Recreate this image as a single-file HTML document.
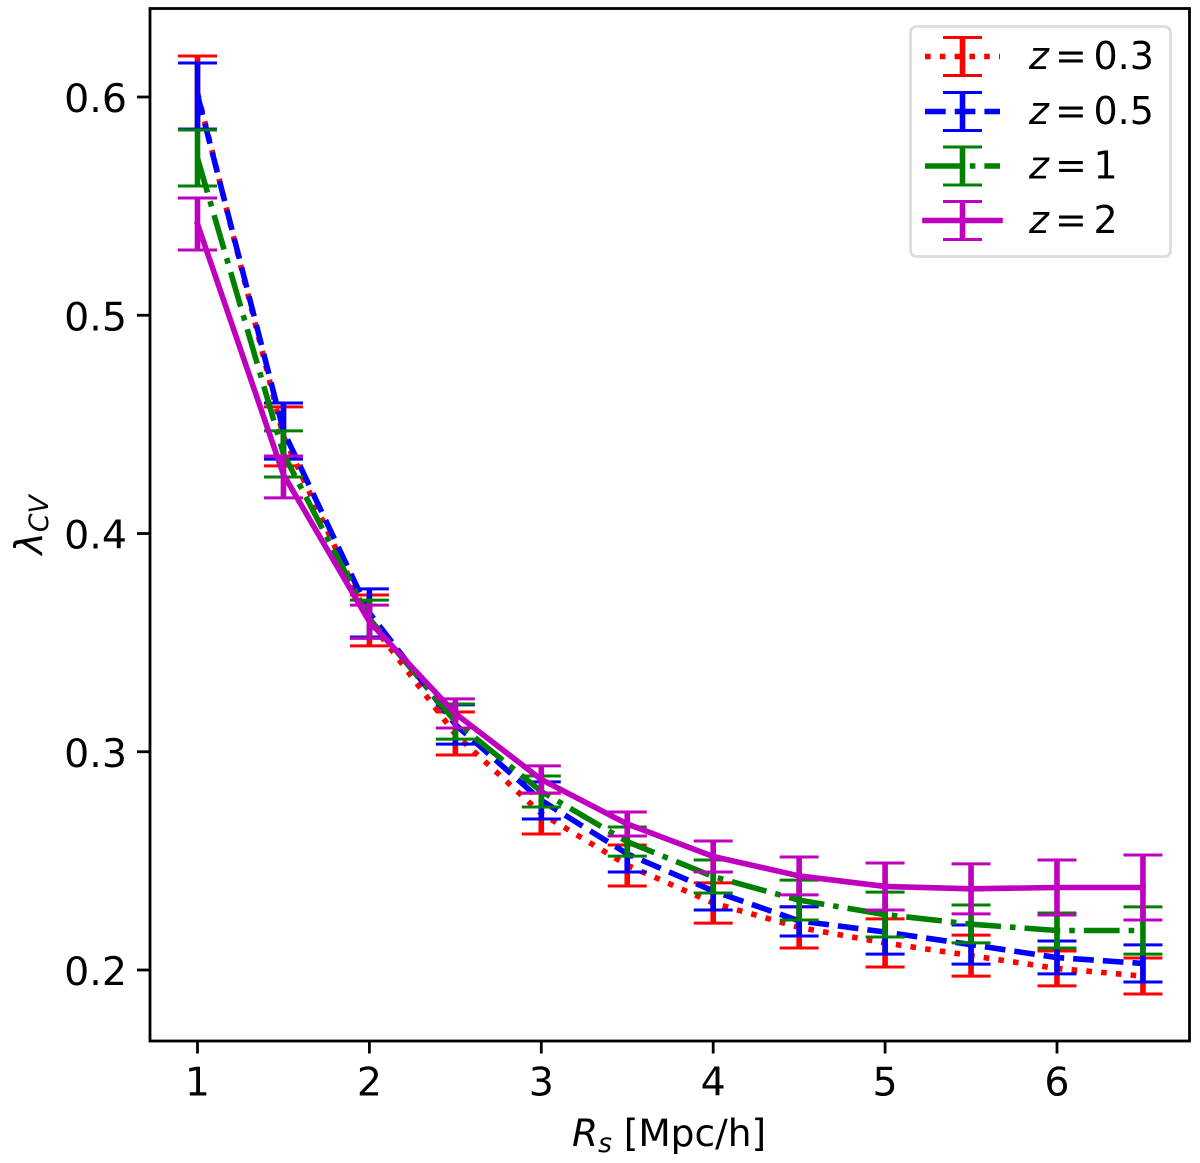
<!DOCTYPE html>
<html lang="en">
<head>
<meta charset="utf-8">
<title>Lambda CV versus smoothing scale</title>
<style>
html,body{margin:0;padding:0;background:#fff;width:1200px;height:1163px;overflow:hidden}
svg{display:block;font-family:"DejaVu Sans","Liberation Sans",sans-serif;fill:#000}
text{font-size:38px}
</style>
</head>
<body>
<svg id="chart" xmlns="http://www.w3.org/2000/svg" width="1200" height="1163" viewBox="0 0 1200 1163">
  <rect x="0" y="0" width="1200" height="1163" fill="#fff"/>
  <g id="series-layer"></g>
  <rect x="150" y="8.5" width="1039.5" height="1032.5" fill="none" stroke="#000" stroke-width="2.8"/>
  <g id="ticks-layer"></g>
  <text x="572" y="1146" style="font-size:37.5px"><tspan font-style="italic">R</tspan><tspan font-style="italic" font-size="26.6" dy="6">s</tspan><tspan x="623.7" dy="-6">[Mpc/h]</tspan></text>
  <text transform="translate(42,525) rotate(-90)" text-anchor="middle"><tspan font-style="italic">λ</tspan><tspan font-style="italic" font-size="26.6" dy="6">CV</tspan></text>

  <g>
    <rect x="910.5" y="26.5" width="260" height="230" rx="6" ry="6" fill="#fff" fill-opacity="0.8" stroke="#dcdcdc" stroke-width="2.8"/>
    <g>
      <line x1="925" y1="56.5" x2="1000" y2="56.5" stroke="#ff0000" stroke-width="5.6" stroke-dasharray="5.6 9.2"/>
      <line x1="962.5" y1="37.5" x2="962.5" y2="75.5" stroke="#ff0000" stroke-width="5.6"/>
      <line x1="943" y1="37.5" x2="982" y2="37.5" stroke="#ff0000" stroke-width="3"/>
      <line x1="943" y1="75.5" x2="982" y2="75.5" stroke="#ff0000" stroke-width="3"/>
      <text x="1029" y="69"><tspan font-style="italic">z</tspan><tspan x="1055">=</tspan><tspan x="1093.5">0.3</tspan></text>
    </g>
    <g>
      <line x1="925" y1="111.5" x2="1000" y2="111.5" stroke="#0000ff" stroke-width="5.6" stroke-dasharray="20.7 9"/>
      <line x1="962.5" y1="92.5" x2="962.5" y2="130.5" stroke="#0000ff" stroke-width="5.6"/>
      <line x1="943" y1="92.5" x2="982" y2="92.5" stroke="#0000ff" stroke-width="3"/>
      <line x1="943" y1="130.5" x2="982" y2="130.5" stroke="#0000ff" stroke-width="3"/>
      <text x="1029" y="124"><tspan font-style="italic">z</tspan><tspan x="1055">=</tspan><tspan x="1093.5">0.5</tspan></text>
    </g>
    <g>
      <line x1="925" y1="166" x2="1000" y2="166" stroke="#008000" stroke-width="5.6" stroke-dasharray="35.8 9 5.6 9"/>
      <line x1="962.5" y1="147" x2="962.5" y2="185" stroke="#008000" stroke-width="5.6"/>
      <line x1="943" y1="147" x2="982" y2="147" stroke="#008000" stroke-width="3"/>
      <line x1="943" y1="185" x2="982" y2="185" stroke="#008000" stroke-width="3"/>
      <text x="1029" y="178.5"><tspan font-style="italic">z</tspan><tspan x="1055">=</tspan><tspan x="1093.5">1</tspan></text>
    </g>
    <g>
      <line x1="925" y1="220.5" x2="1000" y2="220.5" stroke="#bf00bf" stroke-width="5.6" stroke-linecap="square"/>
      <line x1="962.5" y1="201.5" x2="962.5" y2="239.5" stroke="#bf00bf" stroke-width="5.6"/>
      <line x1="943" y1="201.5" x2="982" y2="201.5" stroke="#bf00bf" stroke-width="3"/>
      <line x1="943" y1="239.5" x2="982" y2="239.5" stroke="#bf00bf" stroke-width="3"/>
      <text x="1029" y="233"><tspan font-style="italic">z</tspan><tspan x="1055">=</tspan><tspan x="1093.5">2</tspan></text>
    </g>
  </g>
</svg>
<script>
var scales = [1, 1.5, 2, 2.5, 3, 3.5, 4, 4.5, 5, 5.5, 6, 6.5];
var xTickValues = [1, 2, 3, 4, 5, 6];
var yTickValues = [0.2, 0.3, 0.4, 0.5, 0.6];

var redUpper = [0.6188, 0.458, 0.3718, 0.3182, 0.281, 0.2573, 0.2399, 0.2289, 0.2234, 0.216, 0.2087, 0.2055];
var redMean = [0.602, 0.4445, 0.360, 0.308, 0.2717, 0.248, 0.2307, 0.2195, 0.2124, 0.2066, 0.2007, 0.1972];
var redLower = [0.5853, 0.431, 0.3485, 0.2985, 0.2623, 0.2385, 0.2215, 0.2101, 0.2014, 0.1972, 0.1927, 0.189];

var blueUpper = [0.6156, 0.4598, 0.3746, 0.3215, 0.2862, 0.2614, 0.2449, 0.229, 0.2275, 0.2206, 0.2133, 0.2115];
var blueMean = [0.601, 0.447, 0.3636, 0.3125, 0.2777, 0.2532, 0.2362, 0.2225, 0.2174, 0.2116, 0.2057, 0.203];
var blueLower = [0.5853, 0.4341, 0.3526, 0.3035, 0.2692, 0.2449, 0.2275, 0.2156, 0.2073, 0.2027, 0.1982, 0.1945];

var greenUpper = [0.5849, 0.447, 0.3695, 0.3219, 0.2889, 0.2655, 0.2504, 0.2412, 0.2357, 0.2298, 0.2261, 0.2289];
var greenMean = [0.572, 0.4365, 0.361, 0.3138, 0.2818, 0.2588, 0.2428, 0.232, 0.2254, 0.221, 0.2181, 0.2181];
var greenLower = [0.5592, 0.4259, 0.352, 0.3058, 0.2747, 0.2522, 0.2353, 0.2229, 0.2151, 0.2124, 0.2101, 0.2073];

var magentaUpper = [0.5537, 0.4355, 0.3672, 0.3242, 0.2935, 0.2724, 0.2591, 0.2518, 0.249, 0.2486, 0.2504, 0.2527];
var magentaMean = [0.5418, 0.427, 0.3596, 0.3175, 0.2873, 0.2669, 0.252, 0.2431, 0.2383, 0.2372, 0.2378, 0.2378];
var magentaLower = [0.5299, 0.4163, 0.352, 0.3109, 0.2811, 0.2614, 0.2449, 0.2344, 0.2275, 0.2257, 0.2252, 0.2229];

var SVG_NS = 'http://www.w3.org/2000/svg';

function xScale(v) { return 197.5 + (v - 1) * 171.9; }
function yScale(v) { return 970 - (v - 0.2) * 2182.5; }

function makeLine(x1, y1, x2, y2, color, width) {
  var el = document.createElementNS(SVG_NS, 'line');
  el.setAttribute('x1', x1);
  el.setAttribute('y1', y1);
  el.setAttribute('x2', x2);
  el.setAttribute('y2', y2);
  el.setAttribute('stroke', color);
  el.setAttribute('stroke-width', width);
  return el;
}

function drawSeries(name, color, dash, mean, upper, lower) {
  var layer = document.getElementById('series-layer');
  var group = document.createElementNS(SVG_NS, 'g');
  
  

  var pts = [];
  for (var i = 0; i < scales.length; i++) {
    pts.push(xScale(scales[i]).toFixed(2) + ',' + yScale(mean[i]).toFixed(2));
  }
  var path = document.createElementNS(SVG_NS, 'polyline');
  
  
  path.setAttribute('points', pts.join(' '));
  path.setAttribute('fill', 'none');
  path.setAttribute('stroke', color);
  path.setAttribute('stroke-width', '5.6');
  path.setAttribute('stroke-linejoin', 'round');
  if (dash) {
    path.setAttribute('stroke-dasharray', dash);
  } else {
    path.setAttribute('stroke-linecap', 'square');
  }
  group.appendChild(path);

  for (var j = 0; j < scales.length; j++) {
    var cx = xScale(scales[j]);
    var top = yScale(upper[j]);
    var bottom = yScale(lower[j]);
    var bar = makeLine(cx, top, cx, bottom, color, 5.6);
    
    
    group.appendChild(bar);
    var capTop = makeLine(cx - 19.5, top, cx + 19.5, top, color, 3);
    
    
    group.appendChild(capTop);
    var capBottom = makeLine(cx - 19.5, bottom, cx + 19.5, bottom, color, 3);
    
    
    group.appendChild(capBottom);
  }
  layer.appendChild(group);
}

function drawAxes() {
  var layer = document.getElementById('ticks-layer');
  xTickValues.forEach(function (v) {
    var px = xScale(v);
    var tick = makeLine(px, 1041, px, 1053.5, '#000', 2.8);
    
    
    layer.appendChild(tick);
    var label = document.createElementNS(SVG_NS, 'text');
    
    
    label.setAttribute('x', px);
    label.setAttribute('y', 1095.5);
    label.setAttribute('text-anchor', 'middle');
    label.setAttribute('style', 'font-size:39.5px');
    label.textContent = String(v);
    layer.appendChild(label);
  });
  yTickValues.forEach(function (v) {
    var py = yScale(v);
    var tick = makeLine(137, py, 150, py, '#000', 2.8);
    
    
    layer.appendChild(tick);
    var label = document.createElementNS(SVG_NS, 'text');
    
    
    label.setAttribute('x', 127);
    label.setAttribute('y', py + 15);
    label.setAttribute('text-anchor', 'end');
    label.setAttribute('style', 'font-size:39.5px');
    label.textContent = v.toFixed(1);
    layer.appendChild(label);
  });
}

drawSeries('z-0.3', '#ff0000', '5.6 9.2', redMean, redUpper, redLower);
drawSeries('z-0.5', '#0000ff', '20.7 9', blueMean, blueUpper, blueLower);
drawSeries('z-1', '#008000', '35.8 9 5.6 9', greenMean, greenUpper, greenLower);
drawSeries('z-2', '#bf00bf', '', magentaMean, magentaUpper, magentaLower);
drawAxes();
</script>
</body>
</html>
